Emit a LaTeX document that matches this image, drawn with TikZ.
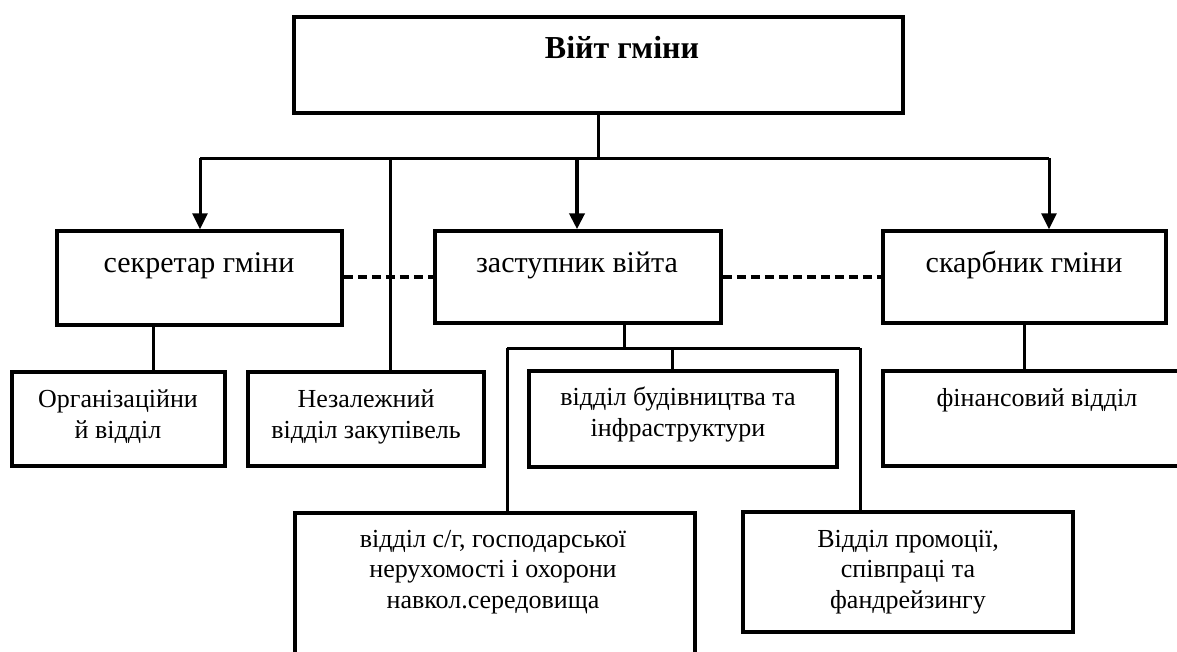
\documentclass[tikz,border=0pt]{standalone}
\usepackage{fontspec}
\setmainfont{Liberation Serif}
\usetikzlibrary{arrows.meta}

\tikzset{
  box/.style={draw, line width=3.5pt, rectangle, inner sep=0pt},
  conn/.style={line width=3pt},
  arr/.style={line width=3pt, -{Triangle[length=16pt,width=15pt]}},
  dashline/.style={line width=3.5pt, dash pattern=on 9pt off 5pt},
  headtxt/.style={font=\fontsize{32}{36}\selectfont\bfseries, anchor=base},
  midtxt/.style={font=\fontsize{30}{34}\selectfont, anchor=base},
  lowtxt/.style={font=\fontsize{26}{30.5}\selectfont, align=center, anchor=base},
}

\begin{document}
\begin{tikzpicture}[x=1pt, y=-1pt]
        \clip (0,0) rectangle (1177,651);
        \fill[white] (0,0) rectangle (1177,651);

        % Boxes
        \node[box, minimum width=609pt, minimum height=96pt] (vijt) at (598.5,65) {};
        \node[box, minimum width=285pt, minimum height=94pt] (sekr) at (199.5,278) {};
        \node[box, minimum width=286pt, minimum height=92pt] (zast) at (578,277) {};
        \node[box, minimum width=283pt, minimum height=92pt] (skarb) at (1024.5,277) {};
        \node[box, minimum width=213pt, minimum height=94pt] (org) at (118.5,419) {};
        \node[box, minimum width=236pt, minimum height=94pt] (nezal) at (366,419) {};
        \node[box, minimum width=308pt, minimum height=96pt] (bud) at (683,419) {};
        \node[box, minimum width=307pt, minimum height=95pt] (fin) at (1036.5,418.5) {};
        \node[box, minimum width=400pt, minimum height=167pt] (cg) at (495,596.5) {};
        \node[box, minimum width=330pt, minimum height=120pt] (prom) at (908,572) {};

        % Labels (base = last line)
        \node[headtxt] (vijtT) at (622,58) {Війт гміни};
        \node[midtxt] (sekrT) at (199,272) {секретар гміни};
        \node[midtxt] (zastT) at (577,272) {заступник війта};
        \node[midtxt] (skarbT) at (1024,272) {скарбник гміни};
        \node[lowtxt] (orgT) at (118,438) {Організаційни\\й відділ};
        \node[lowtxt] (nezalT) at (366,438) {Незалежний\\відділ закупівель};
        \node[lowtxt] (budT) at (678,436) {відділ будівництва та\\інфраструктури};
        \node[lowtxt] (finT) at (1037,406) {фінансовий відділ};
        \node[lowtxt] (cgT) at (493,608) {відділ с/г, господарської\\нерухомості і охорони\\навкол.середовища};
        \node[lowtxt] (promT) at (908,608) {Відділ промоції,\\співпраці та\\фандрейзингу};

        % Bus under the top box
        \coordinate (bus) at (600,158);
        \coordinate (busL) at (200,158);
        \coordinate (busN) at (390,158);
        \coordinate (busM) at (577,158);
        \coordinate (busR) at (1049,158);
        \draw[conn] (vijt.south) -- (vijt.south |- bus);
        \draw[conn] (busL) -- (busR);
        \draw[arr] (busL) -- (busL |- sekr.north);
        \draw[arr, line width=4pt] (busM) -- (busM |- zast.north);
        \draw[arr] (busR) -- (busR |- skarb.north);
        \draw[conn] (busN) -- (busN |- nezal.north);

        % Dashed links
        \draw[dashline] (sekr.east |- zast.west) -- (zast.west);
        \draw[dashline] (zast.east) -- (skarb.west);

        % Lower links
        \coordinate (os) at (153,0);
        \draw[conn] (os |- sekr.south) -- (os |- org.north);
        \draw[conn] (skarb.south) -- (skarb.south |- fin.north);
        \coordinate (zs) at (624,348);
        \coordinate (hL) at (507,348);
        \coordinate (hB) at (672,348);
        \coordinate (hR) at (860,348);
        \draw[conn] (zast.south -| zs) -- (zs);
        \draw[conn] (hL) -- (hR);
        \draw[conn] (hL) -- (hL |- cg.north);
        \draw[conn] (hB) -- (hB |- bud.north);
        \draw[conn] (hR) -- (hR |- prom.north);
\end{tikzpicture}
\end{document}
